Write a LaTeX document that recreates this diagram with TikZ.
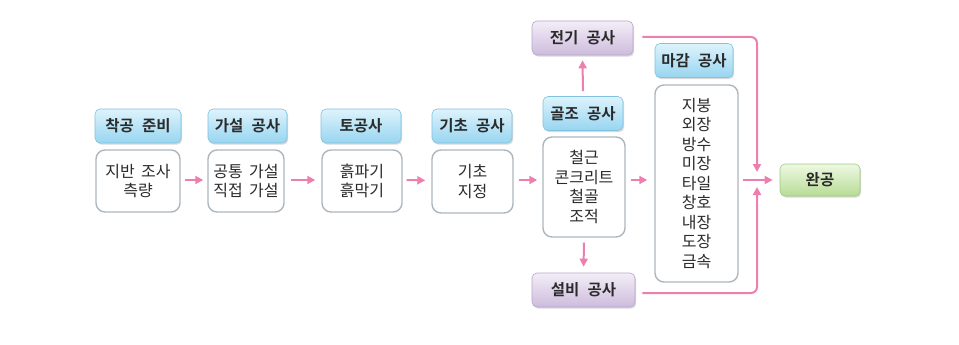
\documentclass[tikz,border=0pt]{standalone}
\usepackage{fontspec}
\setmainfont[WordSpace=1.8]{Noto Sans CJK KR}
\newfontfamily\hdfont[WordSpace=2.4]{Noto Sans CJK KR Bold}
\usetikzlibrary{arrows.meta,shadows,calc}
\definecolor{pinkarr}{HTML}{EC7FAE}
\definecolor{bluetop}{HTML}{DDF3FC}
\definecolor{bluebot}{HTML}{98D5F0}
\definecolor{blueline}{HTML}{80C2E0}
\definecolor{lavtop}{HTML}{F3EDF7}
\definecolor{lavbot}{HTML}{CDBCDD}
\definecolor{lavline}{HTML}{B9A5CC}
\definecolor{grntop}{HTML}{EEF8E3}
\definecolor{grnbot}{HTML}{B7DC95}
\definecolor{grnline}{HTML}{9DCB7A}
\definecolor{bodyline}{HTML}{AEB6BD}
\definecolor{txt}{HTML}{2B2B2B}
\tikzset{
  hdr/.style={rounded corners=5pt, top color=bluetop, bottom color=bluebot, draw=blueline, line width=0.6pt,
    drop shadow={opacity=0.3, shadow xshift=1.2pt, shadow yshift=-1.6pt},
    font=\hdfont\fontsize{15.5}{17}\selectfont, text=txt, inner sep=0pt, align=center},
  lav/.style={hdr, top color=lavtop, bottom color=lavbot, draw=lavline},
  grn/.style={hdr, top color=grntop, bottom color=grnbot, draw=grnline},
  bodybox/.style={rounded corners=9pt, draw=bodyline, line width=1.4pt, fill=white,
    font=\fontsize{16}{19.5}\selectfont, text=txt, inner sep=0pt, align=center},
  arr/.style={draw=pinkarr, line width=2pt, -{Triangle[length=8pt,width=8pt]}},
  pline/.style={draw=pinkarr, line width=2pt, rounded corners=6pt}
}
\begin{document}
\begin{tikzpicture}[x=1pt,y=-1pt]
\useasboundingbox (0,0) rectangle (959,345);
% headers
\node[hdr, minimum width=86pt, minimum height=34pt] (h1) at (138,126) {착공 준비};
\node[hdr, minimum width=79pt, minimum height=34pt] (h2) at (247.5,126) {가설 공사};
\node[hdr, minimum width=80pt, minimum height=34pt] (h3) at (361,126) {토공사};
\node[hdr, minimum width=80pt, minimum height=34pt] (h4) at (472,126) {기초 공사};
\node[hdr, minimum width=80pt, minimum height=34pt] (h5) at (583,113.5) {골조 공사};
\node[hdr, minimum width=78pt, minimum height=34pt] (h6) at (694,60.5) {마감 공사};
\node[lav, minimum width=101pt, minimum height=34pt] (el) at (582.5,38) {전기 공사};
\node[lav, minimum width=103pt, minimum height=34pt] (eq) at (583.5,290) {설비 공사};
\node[grn, minimum width=80pt, minimum height=32pt] (end) at (820,180) {완공};
% bodies
\node[bodybox, minimum width=84pt, minimum height=62pt] (b1) at (138,181) {지반 조사\\측량};
\node[bodybox, minimum width=76pt, minimum height=62pt] (b2) at (246,181) {공통 가설\\직접 가설};
\node[bodybox, minimum width=80pt, minimum height=62pt] (b3) at (362,181) {흙파기\\흙막기};
\node[bodybox, minimum width=81pt, minimum height=63pt] (b4) at (472.5,181.5) {기초\\지정};
\node[bodybox, minimum width=82pt, minimum height=100pt] (b5) at (584,187) {철근\\콘크리트\\철골\\조적};
\node[bodybox, minimum width=83pt, minimum height=197pt] (b6) at (696.5,183.5) {지붕\\외장\\방수\\미장\\타일\\창호\\내장\\도장\\금속};
% junction
\coordinate (j) at (757,180);
% arrows
\draw[arr, shorten <=4pt, shorten >=4pt] ($(b1.east)+(0,-1)$) -- ($(b2.west)+(0,-1)$);
\draw[arr, shorten <=6pt, shorten >=6pt] ($(b2.east)+(0,-1)$) -- ($(b3.west)+(0,-1)$);
\draw[arr, shorten <=4pt, shorten >=6pt] ($(b3.east)+(0,-1)$) -- ($(b4.west)+(0,-1)$);
\draw[arr, shorten <=5pt, shorten >=5pt] (b4.east |- j) -- (b5.west |- j);
\draw[arr, shorten <=5pt, shorten >=7pt] (b5.east |- j) -- (b6.west |- j);
\draw[arr, shorten <=4pt, shorten >=7pt] (b6.east |- j) -- (end.west);
\draw[arr, shorten <=5pt, shorten >=5pt] (h5.north) -- (el.south);
\draw[arr, shorten <=5pt, shorten >=6pt] (b5.south) -- (eq.north);
\draw[pline, -{Triangle[length=8pt,width=8pt]}, shorten >=8pt] ($(el.east)+(9,-1)$) -| (j);
\draw[pline, -{Triangle[length=8pt,width=8pt]}, shorten >=7pt] ($(eq.east)+(7,3)$) -| (j);
\end{tikzpicture}
\end{document}
